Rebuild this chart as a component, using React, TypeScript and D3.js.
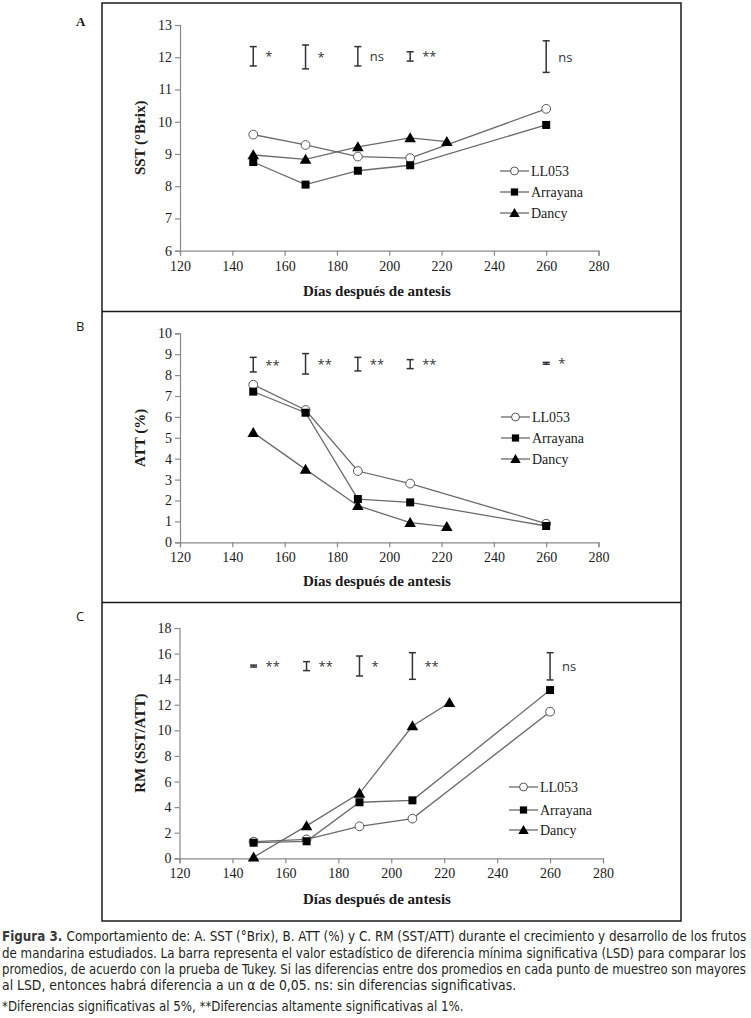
import React, { useRef, useEffect } from "react";
import * as d3 from "d3";

// sampling days
const days = [148, 168, 188, 208, 260];
const daysDancy = [148, 168, 188, 208, 222];
const lsdDays = [148, 168, 188, 208, 260];
const xTicks = [120, 140, 160, 180, 200, 220, 240, 260, 280];
const seriesNames = ["LL053", "Arrayana", "Dancy"];

// A. SST (°Brix)
const sstLL053 = [9.6, 9.28, 8.92, 8.87, 10.4];
const sstArrayana = [8.75, 8.05, 8.48, 8.65, 9.9];
const sstDancy = [8.97, 8.83, 9.22, 9.5, 9.38];
const sstLsdLow = [11.73, 11.64, 11.73, 11.88, 11.53];
const sstLsdHigh = [12.33, 12.38, 12.33, 12.17, 12.51];
const sstLsdLabels = ["*", "*", "ns", "**", "ns"];
const sstTicks = [6, 7, 8, 9, 10, 11, 12, 13];

// B. ATT (%)
const attLL053 = [7.54, 6.33, 3.41, 2.81, 0.89];
const attArrayana = [7.21, 6.2, 2.07, 1.91, 0.78];
const attDancy = [5.25, 3.49, 1.75, 0.94, 0.75];
const attLsdLow = [8.15, 8.05, 8.2, 8.31, 8.52];
const attLsdHigh = [8.85, 9.03, 8.85, 8.74, 8.61];
const attLsdLabels = ["**", "**", "**", "**", "*"];
const attTicks = [0, 1, 2, 3, 4, 5, 6, 7, 8, 9, 10];

// C. RM (SST/ATT)
const rmLL053 = [1.3, 1.48, 2.5, 3.1, 11.46];
const rmArrayana = [1.22, 1.33, 4.38, 4.53, 13.15];
const rmDancy = [0.08, 2.53, 5.08, 10.34, 12.16];
const rmLsdLow = [14.95, 14.67, 14.25, 13.99, 13.94];
const rmLsdHigh = [15.1, 15.37, 15.81, 16.07, 16.07];
const rmLsdLabels = ["**", "**", "*", "**", "ns"];
const rmTicks = [0, 2, 4, 6, 8, 10, 12, 14, 16, 18];

const captionLines = [
  "Comportamiento de: A. SST (°Brix), B. ATT (%) y C. RM (SST/ATT) durante el crecimiento y desarrollo de los frutos",
  "de mandarina estudiados. La barra representa el valor estadístico de diferencia mínima significativa (LSD) para comparar los",
  "promedios, de acuerdo con la prueba de Tukey. Si las diferencias entre dos promedios en cada punto de muestreo son mayores",
  "al LSD, entonces habrá diferencia a un α de 0,05. ns: sin diferencias significativas.",
  "*Diferencias significativas al 5%, **Diferencias altamente significativas al 1%.",
];

const SERIF = "'Liberation Serif', 'Times New Roman', serif";
const SANS = "'Open Sans', 'Liberation Sans', sans-serif";
const LINE = "#6a6a6a";
const AXIS = "#8a8a8a";

const panels = [
  {
    label: "A", labelFont: SERIF, labelY: 26,
    yTitle: "SST (°Brix)", domain: [6, 13], ticks: sstTicks,
    values: [sstLL053, sstArrayana, sstDancy],
    lsdLow: sstLsdLow, lsdHigh: sstLsdHigh, lsdLabels: sstLsdLabels,
    xRange: [180, 598.5], yRange: [250.7, 25],
    legendX: [500, 529], legendY: [171, 192, 213], titleY: 291,
  },
  {
    label: "B", labelFont: SANS, labelY: 331,
    yTitle: "ATT (%)", domain: [0, 10], ticks: attTicks,
    values: [attLL053, attArrayana, attDancy],
    lsdLow: attLsdLow, lsdHigh: attLsdHigh, lsdLabels: attLsdLabels,
    xRange: [180, 598.5], yRange: [542.3, 333.3],
    legendX: [501, 530], legendY: [417, 438, 459], titleY: 581,
  },
  {
    label: "C", labelFont: SANS, labelY: 621,
    yTitle: "RM (SST/ATT)", domain: [0, 18], ticks: rmTicks,
    values: [rmLL053, rmArrayana, rmDancy],
    lsdLow: rmLsdLow, lsdHigh: rmLsdHigh, lsdLabels: rmLsdLabels,
    xRange: [179.5, 603], yRange: [858.3, 628],
    legendX: [509, 538], legendY: [787, 810, 830], titleY: 899,
  },
];

function drawMarker(g: any, kind: number, cx: number, cy: number, small = false) {
  const k = small ? 0.9 : 1;
  if (kind === 0) {
    g.append("circle").attr("cx", cx).attr("cy", cy).attr("r", 4.4 * k)
      .attr("fill", "#fff").attr("stroke", "#555").attr("stroke-width", 1);
  } else if (kind === 1) {
    const s = 8 * k;
    g.append("rect").attr("x", cx - s / 2).attr("y", cy - s / 2)
      .attr("width", s).attr("height", s).attr("fill", "#000");
  } else {
    g.append("path")
      .attr("d", d3.symbol(d3.symbolTriangle, 58 * k * k)())
      .attr("transform", `translate(${cx},${cy + 1})`).attr("fill", "#000");
  }
}

function drawPanel(svg: any, p: any) {
  const x = d3.scaleLinear().domain([120, 280]).range(p.xRange);
  const y = d3.scaleLinear().domain(p.domain).range(p.yRange);
  const g = svg.append("g");

  // axes
  const xa = g.append("g")
    .attr("transform", `translate(0,${p.yRange[0]})`)
    .call(d3.axisBottom(x).tickValues(xTicks).tickSize(5).tickPadding(5).tickFormat(d3.format("d")));
  const ya = g.append("g")
    .attr("transform", `translate(${p.xRange[0]},0)`)
    .call(d3.axisLeft(y).tickValues(p.ticks).tickSize(5).tickPadding(3).tickFormat(d3.format("d")));
  [xa, ya].forEach((a) => {
    a.attr("font-family", SERIF).attr("font-size", 14);
    a.select(".domain").attr("stroke", AXIS).attr("stroke-width", 1.2);
    a.selectAll(".tick line").attr("stroke", AXIS).attr("stroke-width", 1.2);
    a.selectAll(".tick text").attr("fill", "#1a1a1a");
  });

  // axis titles
  g.append("text").attr("x", 377).attr("y", p.titleY + 5)
    .attr("text-anchor", "middle").attr("font-family", SERIF)
    .attr("font-weight", "bold").attr("font-size", 15).attr("fill", "#1a1a1a")
    .text("Días después de antesis");
  const cy = (p.yRange[0] + p.yRange[1]) / 2;
  g.append("text").attr("transform", `translate(${145},${cy}) rotate(-90)`)
    .attr("text-anchor", "middle").attr("font-family", SERIF)
    .attr("font-weight", "bold").attr("font-size", 15).attr("fill", "#1a1a1a")
    .text(p.yTitle);

  // panel letter
  g.append("text").attr("x", 76).attr("y", p.labelY)
    .attr("font-family", p.labelFont).attr("font-weight", p.label === "A" ? "bold" : "normal")
    .attr("font-size", 13).attr("fill", "#1a1a1a").text(p.label);

  // LSD bars
  lsdDays.forEach((d, i) => {
    const bx = x(d);
    const y0 = y(p.lsdLow[i]);
    const y1 = y(p.lsdHigh[i]);
    const bg = g.append("g").attr("stroke", "#333").attr("stroke-width", 1.5);
    bg.append("line").attr("x1", bx).attr("x2", bx).attr("y1", y0).attr("y2", y1);
    bg.append("line").attr("x1", bx - 3.5).attr("x2", bx + 3.5).attr("y1", y0).attr("y2", y0);
    bg.append("line").attr("x1", bx - 3.5).attr("x2", bx + 3.5).attr("y1", y1).attr("y2", y1);
    g.append("text").attr("x", bx + 12).attr("y", (y0 + y1) / 2 + 5)
      .attr("font-family", SANS).attr("font-size", 13).attr("fill", "#333")
      .text(p.lsdLabels[i]);
  });

  // series
  const xs = [days, days, daysDancy];
  p.values.forEach((vals: number[], s: number) => {
    const pts = vals.map((v, i) => [x(xs[s][i]), y(v)] as [number, number]);
    g.append("path").attr("d", d3.line()(pts)).attr("fill", "none")
      .attr("stroke", LINE).attr("stroke-width", 1.3);
  });
  p.values.forEach((vals: number[], s: number) => {
    vals.forEach((v, i) => drawMarker(g, s, x(xs[s][i]), y(v)));
  });

  // legend
  seriesNames.forEach((name, s) => {
    const ly = p.legendY[s];
    g.append("line").attr("x1", p.legendX[0]).attr("x2", p.legendX[1])
      .attr("y1", ly).attr("y2", ly).attr("stroke", LINE).attr("stroke-width", 1.3);
    drawMarker(g, s, (p.legendX[0] + p.legendX[1]) / 2, ly, true);
    g.append("text").attr("x", p.legendX[1] + 2).attr("y", ly + 5)
      .attr("font-family", SERIF).attr("font-size", 14).attr("fill", "#1a1a1a").text(name);
  });
}

const App: React.FC = () => {
  const ref = useRef<SVGSVGElement | null>(null);

  useEffect(() => {
    if (!ref.current) return;
    const svg = d3.select(ref.current);
    svg.selectAll("*").remove();

    // frame
    svg.append("rect").attr("x", 102).attr("y", 3).attr("width", 579).attr("height", 918)
      .attr("fill", "none").attr("stroke", "#1a1a1a").attr("stroke-width", 1.5);
    [311.5, 602.5].forEach((yy) =>
      svg.append("line").attr("x1", 102).attr("x2", 681).attr("y1", yy).attr("y2", yy)
        .attr("stroke", "#1a1a1a").attr("stroke-width", 1.5)
    );

    panels.forEach((p) => drawPanel(svg, p));

    // caption: each line squeezed horizontally to the width it has in the figure
    const capFont = "'DejaVu Sans Condensed', 'DejaVu Sans', sans-serif";
    const lineY = [941, 957.5, 974, 990, 1011];
    const widths = [745, 745, 745, 515, 462];
    captionLines.forEach((t, i) => {
      const tx = svg.append("text").attr("x", 0).attr("y", 0)
        .attr("font-family", capFont).attr("font-size", 13.5).attr("fill", "#231f20");
      if (i === 0) {
        tx.append("tspan").attr("font-weight", "bold").attr("fill", "#3a3a3a").text("Figura 3. ");
      }
      tx.append("tspan").text(t);
      const natural = (tx.node() as SVGTextElement).getComputedTextLength() || widths[i];
      tx.attr("transform", `translate(2,${lineY[i]}) scale(${widths[i] / natural},1)`);
    });
  }, []);

  return (
    <svg
      ref={ref}
      width={751}
      height={1018}
      style={{ position: "absolute", left: 0, top: 0, background: "#fff" }}
    />
  );
};

export default App;
